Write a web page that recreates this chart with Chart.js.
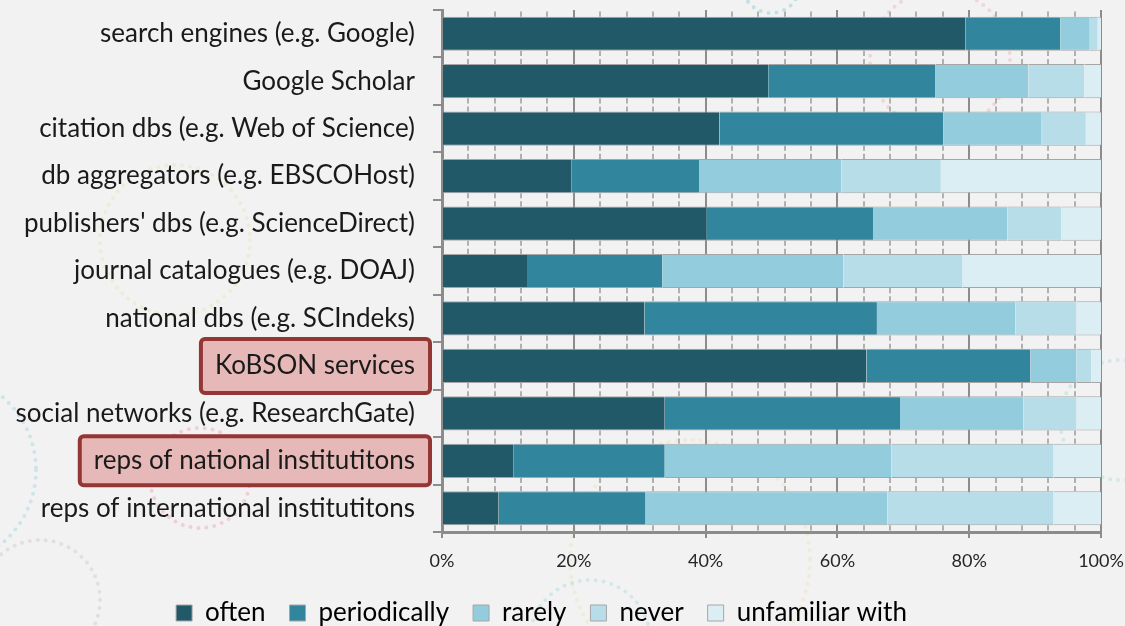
<!DOCTYPE html>
<html>
<head>
<meta charset="utf-8">
<script src="https://cdn.jsdelivr.net/npm/chart.js@4.4.1/dist/chart.umd.min.js"></script>
<style>
  html, body { margin: 0; padding: 0; background: #f2f2f2; }
  #wrap { width: 1125px; height: 626px; }
</style>
</head>
<body>
<div id="wrap"><canvas id="c" width="1125" height="626"></canvas></div>
<script>
// ---- data ----
const categories = [
  'search engines (e.g. Google)',
  'Google Scholar',
  'citation dbs (e.g. Web of Science)',
  'db aggregators (e.g. EBSCOHost)',
  "publishers' dbs (e.g. ScienceDirect)",
  'journal catalogues (e.g. DOAJ)',
  'national dbs (e.g. SCIndeks)',
  'KoBSON services',
  'social networks (e.g. ResearchGate)',
  'reps of national institutitons',
  'reps of international institutitons'
];
const seriesNames = ['often', 'periodically', 'rarely', 'never', 'unfamiliar with'];
const often        = [79.4, 49.5, 42.1, 19.6, 40.1, 12.9, 30.7, 64.4, 33.8, 10.8,  8.6];
const periodically = [14.4, 25.4, 34.0, 19.4, 25.3, 20.5, 35.3, 24.9, 35.7, 23.0, 22.3];
const rarely       = [ 4.5, 14.1, 14.9, 21.6, 20.4, 27.5, 21.0,  7.0, 18.7, 34.4, 36.7];
const never        = [ 1.2,  8.5,  6.7, 15.1,  8.2, 18.1,  9.3,  2.2,  8.1, 24.6, 25.2];
const unfamiliar   = [ 0.5,  2.5,  2.3, 24.3,  6.0, 21.0,  3.7,  1.5,  3.7,  7.2,  7.2];
const xTickValues  = [0, 20, 40, 60, 80, 100];
const highlighted  = ['KoBSON services', 'reps of national institutitons'];

// ---- styles ----
const colors = ['#215968', '#31859c', '#93cddd', '#b7dee8', '#daeef3'];
const FONT = 'Lato';
const gridGray = '#8c8c8c';

const seriesValues = [often, periodically, rarely, never, unfamiliar];
const datasets = seriesNames.map((n, i) => ({
  label: n,
  data: seriesValues[i],
  backgroundColor: colors[i],
  borderColor: '#a6a6a6',
  borderWidth: {top: 1, bottom: 1, left: 0, right: 0},
  borderSkipped: false,
  barPercentage: 0.72,
  categoryPercentage: 1.0
}));

const highlightStyle = {
  'KoBSON services': {padL: 14, padR: 15, half: 27},
  'reps of national institutitons': {padL: 14, padR: 15, half: 24.5}
};

const decoPlugin = {
  id: 'deco',
  beforeDraw(chart) {
    const ctx = chart.ctx;
    ctx.save();
    ctx.fillStyle = '#f2f2f2';
    ctx.fillRect(0, 0, chart.width, chart.height);
    // faint decorative dotted circles
    const circles = [
      [771, -16, 29, 'rgba(120,200,210,0.4)'],
      [-60, 470, 96, 'rgba(120,200,210,0.3)'],
      [200, 478, 50, 'rgba(230,130,140,0.3)'],
      [175, 240, 75, 'rgba(230,210,120,0.22)'],
      [690, 560, 120, 'rgba(230,210,120,0.22)'],
      [40, 600, 60, 'rgba(170,170,170,0.25)'],
      [590, 640, 60, 'rgba(120,200,210,0.25)'],
      [1120, 420, 60, 'rgba(120,200,210,0.25)'],
      [940, 60, 70, 'rgba(230,130,140,0.25)']
    ];
    ctx.lineCap = 'round';
    ctx.lineWidth = 4;
    ctx.setLineDash([0, 8]);
    circles.forEach(([x, y, r, c]) => {
      ctx.strokeStyle = c;
      ctx.beginPath();
      ctx.arc(x, y, r, 0, Math.PI * 2);
      ctx.stroke();
    });
    ctx.setLineDash([]);
    // highlight boxes behind labels
    const ys = chart.scales.y;
    const tickOpts = ys.options.ticks;
    const textRight = ys.right - ys.options.grid.tickLength - tickOpts.padding;
    ctx.font = tickOpts.font.size + 'px ' + FONT;
    highlighted.forEach(lbl => {
      const idx = categories.indexOf(lbl);
      const st = highlightStyle[lbl];
      const w = ctx.measureText(lbl).width;
      const cy = ys.getPixelForValue(idx);
      const x0 = textRight - w - st.padL, x1 = textRight + st.padR;
      const y0 = cy - st.half, y1 = cy + st.half;
      ctx.beginPath();
      ctx.roundRect(x0, y0, x1 - x0, y1 - y0, 4);
      ctx.fillStyle = '#e6b9b8';
      ctx.fill();
      ctx.lineWidth = 4;
      ctx.strokeStyle = '#943634';
      ctx.stroke();
    });
    ctx.restore();
  },
  beforeDatasetsDraw(chart) {
    // minor gridline stubs (every 4%) in the gaps between bars
    const ctx = chart.ctx, xs = chart.scales.x, area = chart.chartArea;
    const n = categories.length;
    const rowH = (area.bottom - area.top) / n;
    const gap = rowH * (1 - 0.72);
    ctx.save();
    ctx.strokeStyle = '#b0b0b0';
    ctx.lineWidth = 2;
    for (let v = 4; v < 100; v += 4) {
      if (v % 20 === 0) continue;
      const x = Math.round(xs.getPixelForValue(v));
      for (let i = 0; i <= n; i++) {
        const yb = area.top + i * rowH;
        const a = Math.max(area.top, yb - gap / 2), b = Math.min(area.bottom, yb + gap / 2);
        ctx.beginPath();
        if (a < yb - 1.5) { ctx.moveTo(x, a); ctx.lineTo(x, yb - 1.5); }
        if (b > yb + 1.5) { ctx.moveTo(x, yb + 1.5); ctx.lineTo(x, b); }
        ctx.stroke();
      }
    }
    ctx.restore();
  },
  afterLayout(chart) {
    const lg = chart.legend;
    if (lg) { lg.top += 4; lg.bottom += 4; lg.left -= 9; lg.right -= 9; }
  }
};

new Chart(document.getElementById('c'), {
  type: 'bar',
  data: { labels: categories, datasets },
  options: {
    indexAxis: 'y',
    responsive: false,
    animation: false,
    devicePixelRatio: 1,
    layout: { padding: { top: 10, right: 24, left: 0, bottom: 0 } },
    scales: {
      x: {
        stacked: true,
        min: 0, max: 100,
        afterBuildTicks: s => { s.ticks = xTickValues.map(v => ({value: v})); },
        afterFit: s => { s.height = 40; s.paddingLeft = 0; s.paddingRight = 0; },
        ticks: {
          callback: v => v + '%',
          font: { family: FONT, size: 18 },
          color: '#262626',
          padding: 12,
          maxRotation: 0
        },
        grid: { color: gridGray, lineWidth: 2, tickLength: 6, tickColor: gridGray },
        border: { display: true, color: gridGray, width: 3 }
      },
      y: {
        stacked: true,
        afterFit: s => { s.width = 442; s.paddingTop = 0; s.paddingBottom = 0; },
        ticks: {
          font: { family: FONT, size: 26 },
          color: '#1a1a1a',
          padding: 18,
          autoSkip: false
        },
        grid: { offset: true, drawOnChartArea: false, tickLength: 9, color: gridGray, lineWidth: 2 },
        border: { display: true, color: gridGray, width: 3 }
      }
    },
    plugins: {
      tooltip: { enabled: false },
      legend: {
        position: 'bottom',
        maxHeight: 54,
        labels: {
          boxWidth: 16, boxHeight: 16, padding: 24,
          font: { family: FONT, size: 26 },
          color: '#1a1a1a',
          generateLabels: chart => chart.data.datasets.map((d, i) => ({
            text: d.label,
            fillStyle: d.backgroundColor,
            strokeStyle: '#a6a6a6',
            lineWidth: 1,
            datasetIndex: i,
            hidden: false
          }))
        }
      }
    }
  },
  plugins: [decoPlugin]
});
</script>
</body>
</html>
